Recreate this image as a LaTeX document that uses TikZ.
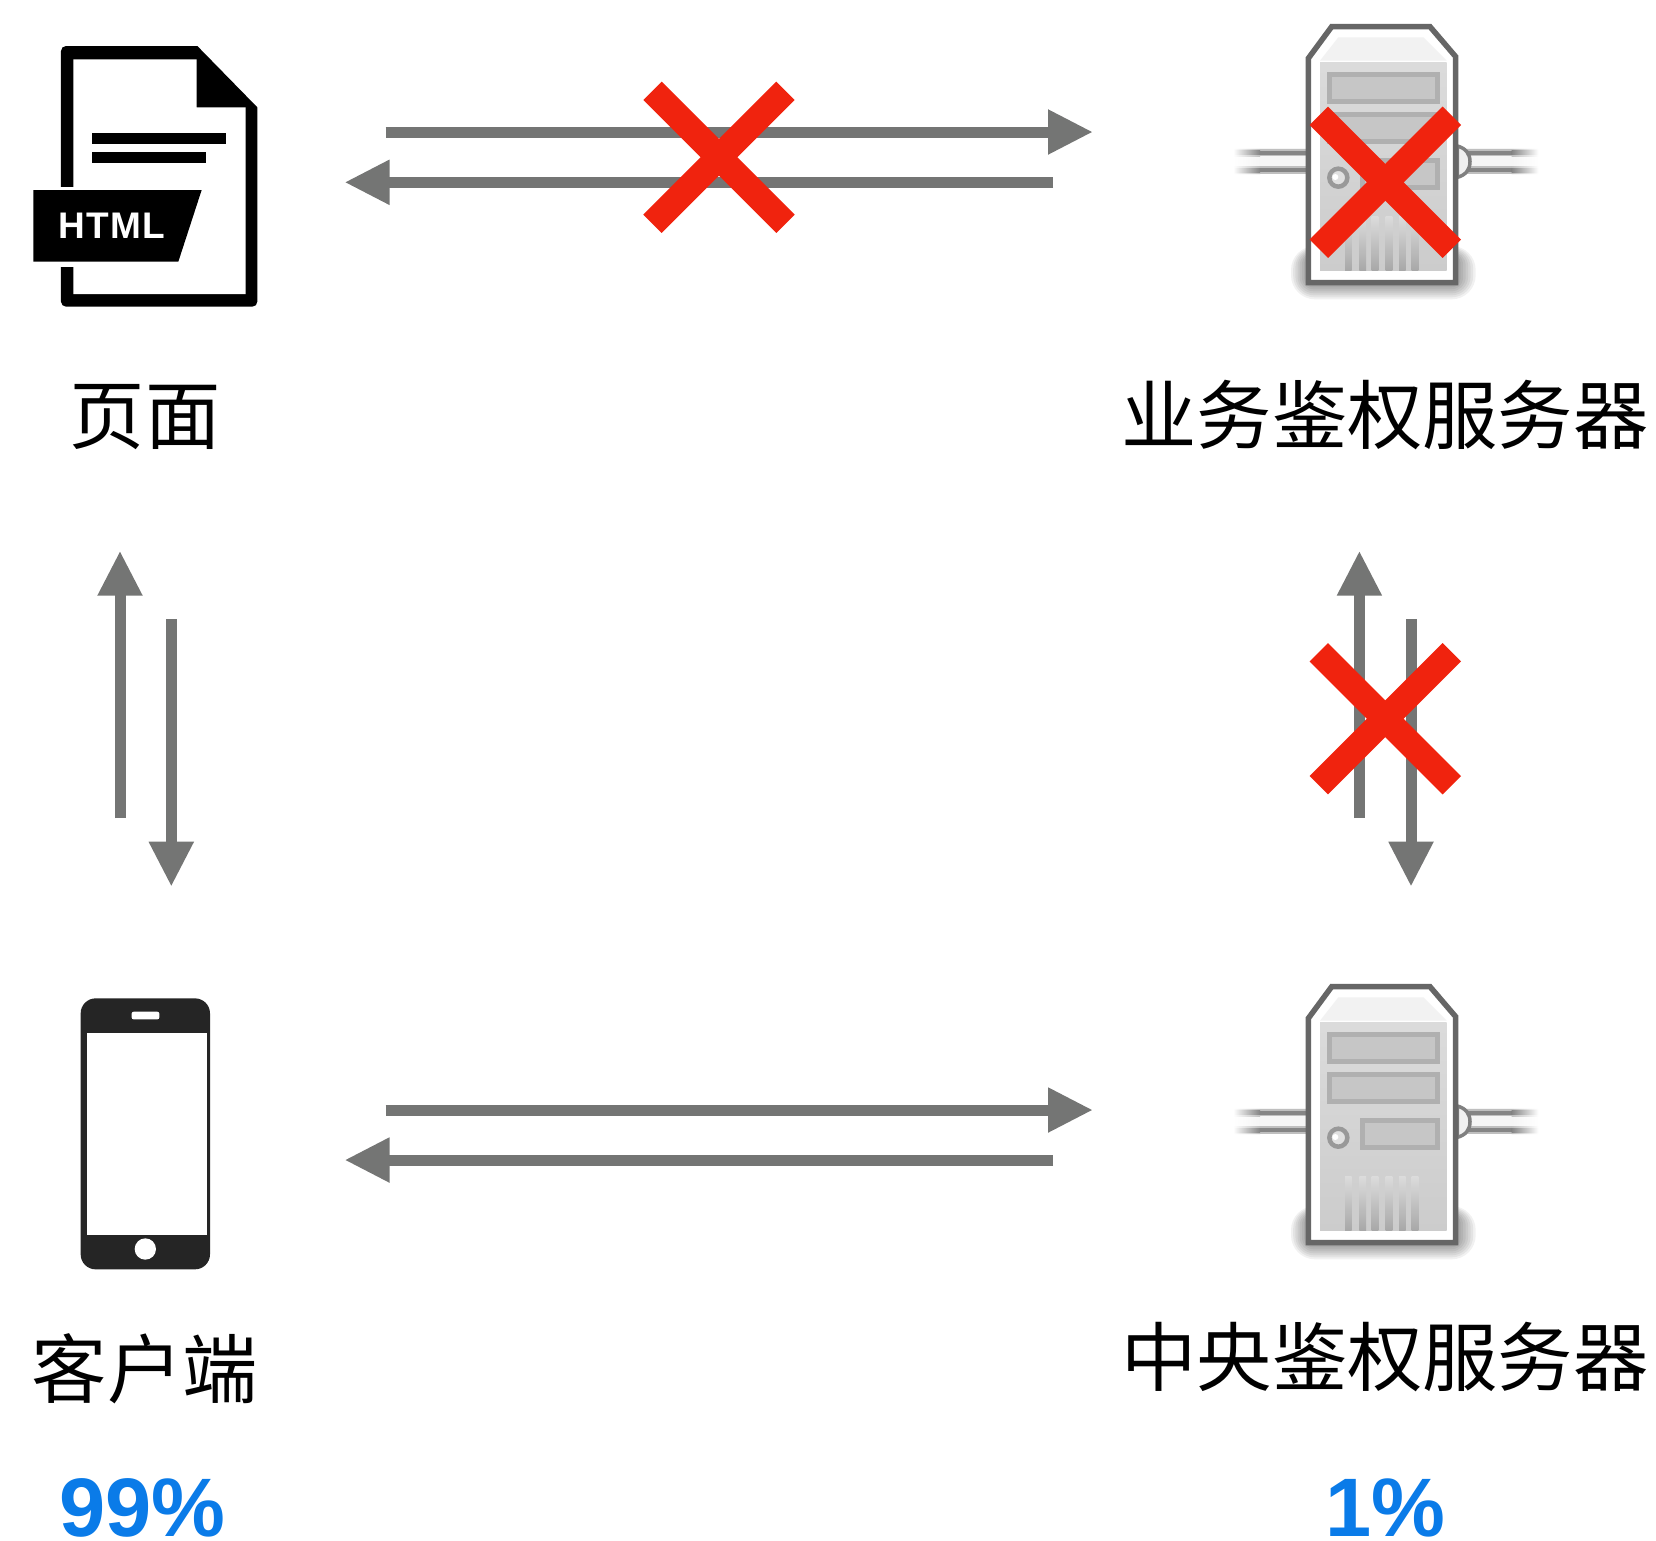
\documentclass[tikz,border=0pt]{standalone}
\usepackage{fontspec}
\setmainfont{Liberation Sans}
\newfontfamily\cjkfont{Noto Sans CJK SC}
\newfontfamily\tagfont[LetterSpace=3.5]{Liberation Sans}
\usetikzlibrary{arrows.meta}
\definecolor{arrowgray}{HTML}{747574}
\definecolor{crossred}{HTML}{F0230E}
\definecolor{pctblue}{HTML}{0A7BE8}
\definecolor{phoneblack}{HTML}{252525}
\definecolor{srvdark}{HTML}{666666}
\definecolor{srvslot}{HTML}{B0B0B0}
\definecolor{srvslotin}{HTML}{C6C6C6}
\colorlet{srvbase}{black!14}
\tikzset{
  flow/.style={draw=arrowgray,line width=11pt,-{Triangle[length=45pt,width=42pt,fill=arrowgray]}},
  crossbar/.style={draw=crossred,line width=26pt},
  cjklabel/.style={anchor=base,inner sep=0pt,font=\cjkfont\fontsize{75.3}{80}\selectfont,text=black},
  pctlabel/.style={anchor=base,inner sep=0pt,font=\bfseries\fontsize{83}{86}\selectfont,text=pctblue},
  slotbox/.style={fill=srvslotin,draw=srvslot,line width=5pt,line join=miter},
  ventbar/.style={top color=srvbase,bottom color=black!34,draw=none},
  redcross/.pic={
    \draw[crossbar] (-66.5,-66.5) -- (66.5,66.5);
    \draw[crossbar] (-66.5,66.5) -- (66.5,-66.5);
  },
  serverbox/.pic={
    % shadow
    \foreach \i in {0,...,8}{
      \fill[black,opacity=0.055,rounded corners={4pt+\i*2.5pt}]
        ({295-\i*6.5},{770-\i*4}) rectangle ({737+\i*7.5},{850+\i*6});
    }
    % cables
    \foreach \ya/\yb/\tone in {445/523/4,447/469/25,499/521/25,452/464/48,504/516/48}{
      \fill[black!\tone] (149,\ya) rectangle (292,\yb);
      \shade[left color=white,right color=black!\tone] (70,\ya) rectangle (150,\yb);
      \fill[black!\tone] (770,\ya) rectangle (906,\yb);
      \shade[right color=white,left color=black!\tone] (905,\ya) rectangle (985,\yb);
    }
    \filldraw[fill=black!6,draw=black!50,line width=3.5pt] (742,438) .. controls (768,445) and (780,462) .. (780,485) .. controls (780,508) and (768,525) .. (742,532) -- cycle;
    % body
    \filldraw[fill=white,draw=srvdark,line width=5.5pt,line join=miter]
      (295,175) -- (365,80) -- (660,80) -- (737,170) -- (737,848) -- (295,848) -- cycle;
    \fill[black!5] (385,112) -- (640,112) -- (710,182) -- (330,182) -- cycle;
    \shade[top color=srvbase,bottom color=black!20] (330,186) rectangle (710,810);
    % slots
    \path[slotbox] (357,222) rectangle (681,303);
    \path[slotbox] (357,342) rectangle (681,423);
    \path[slotbox] (457,482) rectangle (681,563);
    % lock
    \filldraw[fill=black!12,draw=black!40,line width=4.5pt] (385,533) circle (27pt);
    \fill[white] (376,531) circle (9pt);
    % vents
    \foreach \v in {415,458,495,537,577,615}{
      \shade[ventbar] ({\v-10},650) rectangle ({\v+10},810);
    }
  }
}
\begin{document}
\begin{tikzpicture}[x=1pt,y=-1pt]
\useasboundingbox (0,0) rectangle (1656,1540);
\fill[white] (0,0) rectangle (1656,1540);

% HTML page icon
\begin{scope}[shift={(0,20)},scale=1/3]
  \fill[black] (592,78) [sharp corners] -- (772,262) [rounded corners=5pt] -- (772,860) -- (183,860) -- (183,78) [sharp corners] -- cycle;
  \fill[white] (220,118) -- (590,118) -- (590,262) -- (737,262) -- (737,822) -- (220,822) -- cycle;
  \fill[black] (275,340) rectangle (677,372);
  \fill[black] (275,397) rectangle (618,430);
  \fill[white] (178,500) rectangle (222,742);
  \fill[black] (100,510) -- (605,510) -- (535,725) -- (100,725) -- cycle;
  \node[inner sep=0pt,text=white,font=\tagfont\bfseries\fontsize{37}{40}\selectfont] (htmltag) at (335,618) {HTML};
\end{scope}

% phone icon
\begin{scope}[shift={(60,980)},scale=1/3]
  \fill[phoneblack,rounded corners=15pt] (62,55) rectangle (450,868);
  \fill[white] (80,158) rectangle (440,765);
  \fill[white,rounded corners=2pt] (215,95) rectangle (298,118);
  \fill[white] (256,807) circle (32pt);
\end{scope}

% servers
\pic[scale=1/3] at (1210,0) {serverbox};
\pic[scale=1/3] at (1210,960) {serverbox};

% connector ends
\coordinate (pageOutR) at (385.5,132);
\coordinate (authInL) at (1093,132);
\coordinate (authOutL) at (1053,182.3);
\coordinate (pageInR) at (344.5,182.3);
\coordinate (appOutR) at (385.5,1110);
\coordinate (centerInL) at (1093,1110);
\coordinate (centerOutL) at (1053,1160);
\coordinate (appInR) at (344.5,1160);
\coordinate (appOutT) at (120,818);
\coordinate (pageInB) at (120,550.7);
\coordinate (pageOutB) at (171.3,619.3);
\coordinate (appInT) at (171.3,886.7);
\coordinate (centerOutT) at (1359.4,818);
\coordinate (authInB) at (1359.4,550.7);
\coordinate (authOutB) at (1411,619.3);
\coordinate (centerInT) at (1411,886.7);

\draw[flow] (pageOutR) -- (authInL);
\draw[flow] (authOutL) -- (pageInR);
\draw[flow] (appOutR) -- (centerInL);
\draw[flow] (centerOutL) -- (appInR);
\draw[flow] (appOutT) -- (pageInB);
\draw[flow] (pageOutB) -- (appInT);
\draw[flow] (centerOutT) -- (authInB);
\draw[flow] (authOutB) -- (centerInT);

% crosses
\pic at (719,157.3) {redcross};
\pic at (1385.3,182.3) {redcross};
\pic at (1385.3,718.7) {redcross};

% labels
\node[cjklabel] (pageLabel) at (145,443.5) {页面};
\node[cjklabel] (authLabel) at (1385,443.5) {业务鉴权服务器};
\node[cjklabel] (appLabel) at (144.7,1397.5) {客户端};
\node[cjklabel] (centerLabel) at (1385,1385.5) {中央鉴权服务器};
\node[pctlabel] (appPct) at (142.5,1536) {99\%};
\node[pctlabel] (centerPct) at (1385,1536) {1\%};
\end{tikzpicture}
\end{document}
